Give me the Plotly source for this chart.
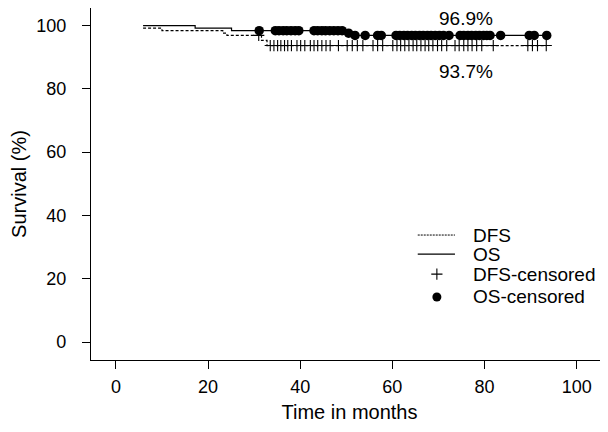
import numpy as np
import plotly.graph_objects as go

# ---------------- data ----------------
dfs_times = [5.9, 10.0, 23.2, 24.1, 31.6, 32.8, 93.4]
dfs_surv = [99.2, 98.4, 97.6, 96.9, 95.3, 93.7, 93.7]

os_times = [5.9, 17.2, 25.1, 49.7, 51.2, 93.5]
os_surv = [100.0, 99.2, 98.4, 97.6, 96.9, 96.9]

dfs_censored = [31.0, 33.5, 34.3, 35.1, 35.8, 36.6, 37.3, 38.1, 39.3, 40.1, 41.0,
                42.2, 43.0, 43.8, 44.7, 45.6, 46.5, 48.3, 50.2, 51.3, 52.4, 53.6,
                55.8, 56.8, 57.9, 60.1, 61.0, 61.8, 62.7, 63.6, 64.5, 65.3, 66.2,
                67.1, 67.9, 68.8, 69.8, 70.7, 71.8, 73.6, 74.5, 75.5, 76.4, 77.3,
                78.3, 79.4, 81.9, 89.4, 90.4, 91.5, 93.4]

os_censored = [31.1, 34.6, 35.4, 36.3, 37.1, 38.0, 38.9, 39.7,
               43.0, 43.8, 44.7, 45.5, 46.4, 47.3, 48.2, 49.1,
               50.5, 51.9, 54.1, 56.8, 57.6,
               60.8, 61.6, 62.5, 63.3, 64.2, 65.0, 65.9, 66.7, 67.6, 68.4, 69.3,
               70.2, 71.1, 72.3,
               74.7, 75.5, 76.4, 77.2, 78.1, 78.9, 79.8, 80.5, 81.2,
               83.5, 89.7, 90.8, 93.5]

x_ticks = [0, 20, 40, 60, 80, 100]
y_ticks = [0, 20, 40, 60, 80, 100]

legend_names = ["DFS", "OS", "DFS-censored", "OS-censored"]

# ---------------- helpers ----------------
def level_at(times, surv, t):
    idx = int(np.searchsorted(times, t, side="right")) - 1
    return surv[max(idx, 0)]

FONT = "Liberation Sans, Arial, Helvetica, sans-serif"
BLACK = "#000000"

fig = go.Figure()

# curves
fig.add_trace(go.Scatter(x=dfs_times, y=dfs_surv, mode="lines", line_shape="hv",
                         line=dict(color=BLACK, width=1.2, dash="3px,2px"),
                         showlegend=False, hoverinfo="skip"))
fig.add_trace(go.Scatter(x=os_times, y=os_surv, mode="lines", line_shape="hv",
                         line=dict(color=BLACK, width=1.2),
                         showlegend=False, hoverinfo="skip"))

# censor marks
fig.add_trace(go.Scatter(x=os_censored,
                         y=[level_at(os_times, os_surv, t) for t in os_censored],
                         mode="markers",
                         marker=dict(symbol="circle", size=9.5, color=BLACK,
                                     line=dict(width=0)),
                         showlegend=False, hoverinfo="skip"))
fig.add_trace(go.Scatter(x=dfs_censored,
                         y=[level_at(dfs_times, dfs_surv, t) for t in dfs_censored],
                         mode="markers",
                         marker=dict(symbol="cross-thin", size=8,
                                     line=dict(width=1.1, color=BLACK)),
                         showlegend=False, hoverinfo="skip"))

# final-value labels
fig.add_annotation(x=76, y=102.3, xref="x", yref="y", text=f"{os_surv[-1]:.1f}%",
                   showarrow=False, font=dict(family=FONT, size=19, color=BLACK),
                   borderpad=0)
fig.add_annotation(x=76, y=85.6, xref="x", yref="y", text=f"{dfs_surv[-1]:.1f}%",
                   showarrow=False, font=dict(family=FONT, size=19, color=BLACK),
                   borderpad=0)

# manual legend on an overlay [0,1] axis pair
leg_rows = [0.355, 0.301, 0.244, 0.179]
line_x = [0.632, 0.704]
mark_x = 0.669
text_x = 0.735
fig.add_trace(go.Scatter(x=line_x, y=[leg_rows[0]] * 2, xaxis="x2", yaxis="y2",
                         mode="lines", line=dict(color=BLACK, width=1, dash="2px,1px"),
                         showlegend=False, hoverinfo="skip"))
fig.add_trace(go.Scatter(x=line_x, y=[leg_rows[1]] * 2, xaxis="x2", yaxis="y2",
                         mode="lines", line=dict(color=BLACK, width=1.2),
                         showlegend=False, hoverinfo="skip"))
fig.add_trace(go.Scatter(x=[mark_x], y=[leg_rows[2]], xaxis="x2", yaxis="y2",
                         mode="markers",
                         marker=dict(symbol="cross-thin", size=8,
                                     line=dict(width=1.1, color=BLACK)),
                         showlegend=False, hoverinfo="skip"))
fig.add_trace(go.Scatter(x=[mark_x], y=[leg_rows[3]], xaxis="x2", yaxis="y2",
                         mode="markers",
                         marker=dict(symbol="circle", size=9, color=BLACK),
                         showlegend=False, hoverinfo="skip"))
for name, yy in zip(legend_names, leg_rows):
    fig.add_annotation(x=text_x, y=yy, xref="x2", yref="y2", text=name,
                       showarrow=False, xanchor="left", yanchor="middle",
                       font=dict(family=FONT, size=19, color=BLACK))

# The page body has an 8px default margin, so the figure is 8px smaller
# and its plot area is laid out relative to that offset.
fig.update_layout(
    width=600, height=424,
    margin=dict(l=83, r=0, t=0, b=72, pad=0),
    paper_bgcolor="white", plot_bgcolor="white",
    showlegend=False,
    font=dict(family=FONT, color=BLACK),
    xaxis=dict(range=[-5.4, 106.8], tickvals=x_ticks, ticks="outside", ticklen=8,
               tickwidth=1.2, tickcolor=BLACK, showline=True, linecolor=BLACK,
               linewidth=1.3, showgrid=False, zeroline=False, automargin=False,
               tickfont=dict(family=FONT, size=18, color=BLACK),
               ticklabelstandoff=2,
               title=dict(text="Time in months", standoff=9,
                          font=dict(family=FONT, size=20, color=BLACK))),
    yaxis=dict(range=[-5.69, 105.56], tickvals=y_ticks, ticks="outside", ticklen=8,
               tickwidth=1.2, tickcolor=BLACK, showline=True, linecolor=BLACK,
               linewidth=1.3, showgrid=False, zeroline=False, automargin=False,
               tickfont=dict(family=FONT, size=18, color=BLACK),
               ticklabelstandoff=12,
               title=dict(text="Survival (%)", standoff=12,
                          font=dict(family=FONT, size=20, color=BLACK))),
    xaxis2=dict(range=[0, 1], overlaying="x", visible=False, fixedrange=True),
    yaxis2=dict(range=[0, 1], overlaying="y", visible=False, fixedrange=True),
)

fig.write_html("out.html")
